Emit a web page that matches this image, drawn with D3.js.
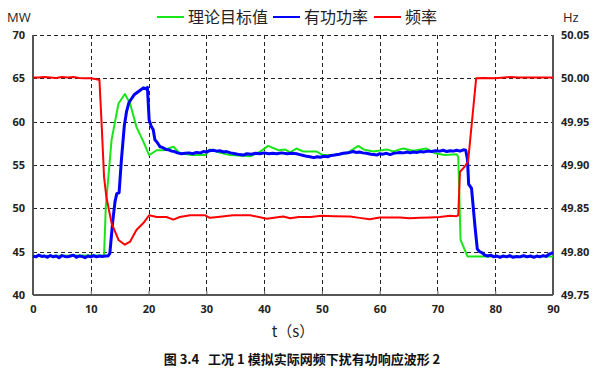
<!DOCTYPE html>
<html><head><meta charset="utf-8">
<script src="https://cdn.jsdelivr.net/npm/d3@7"></script>
<style>
html,body{margin:0;padding:0;background:#fff;}
svg{display:block;}
</style></head>
<body>
<svg id="c" width="595" height="370"></svg>
<script>
// ---- data ----
const xTicks = [0,10,20,30,40,50,60,70,80,90];
const yLeftTicks = [40,45,50,55,60,65,70];
const yRightTicks = ["49.75","49.80","49.85","49.90","49.95","50.00","50.05"];
const seriesNames = ["理论目标值","有功功率","频率"];
const seriesColors = ["#19e619","#0000ff","#ff0000"];

const greenT = [0,12.3,12.6,13.6,14.8,15.9,16.8,17.9,19.1,20.1,21.4,22.6,23.4,24.3,25.4,27.5,29.8,30.6,32.4,34.1,37.6,39.3,40.7,42.5,43.6,44.5,45.6,46.8,49.1,50.2,52.0,54.3,56.3,57.2,58.9,61.2,62.4,63.5,64.1,65.8,68.1,69.6,71.3,73.3,73.6,74.0,75.2,90];
const greenV = [44.5,44.6,50.2,57.9,62.1,63.2,62.1,59.4,57.7,56.15,56.7,56.7,56.9,57.1,56.35,56.15,56.15,56.8,56.4,56.15,56.0,56.55,57.2,56.7,56.8,56.45,56.9,56.55,56.55,56.15,56.15,56.35,57.2,56.8,56.55,56.8,56.55,56.8,56.9,56.65,56.9,56.35,56.15,56.25,55.95,46.35,44.45,44.45];

const blueT = [0,0.5,1,1.5,2,2.5,3,3.5,4,4.5,5,5.5,6,6.5,7,7.5,8,8.5,9,9.5,10,10.5,11,11.5,12,12.5,
13.0,13.3,13.8,14.2,14.5,14.9,15.3,15.8,16.2,16.6,17.1,17.5,17.9,18.5,19.1,19.5,19.8,20.0,20.1,20.5,20.8,21.1,21.5,22.0,22.5,23.0,23.5,24.0,24.5,25.0,25.7,26.3,27.0,27.6,28.3,29.0,29.5,30.0,30.6,31.2,31.8,32.3,33.0,33.5,34.2,35.0,35.7,36.4,37.0,37.8,38.5,39.3,40.0,40.8,41.5,42.2,43.0,44.0,44.8,45.6,46.2,46.8,47.4,47.9,48.6,49.2,49.7,50.4,51.0,51.6,52.2,53.0,53.7,54.5,55.4,56.0,56.5,57.1,57.7,58.5,59.0,59.5,60.0,60.6,61.2,61.8,62.4,63.0,63.5,64.1,64.8,65.3,65.8,66.5,67.0,67.6,68.3,69.0,69.7,70.4,71.0,71.6,72.2,72.8,73.3,73.9,74.5,74.9,75.2,75.4,75.9,76.5,76.9,77.3,77.7,78.2,78.7,79.2,79.8,80.3,80.8,81.4,82.0,82.5,83.1,83.7,84.3,84.9,85.5,86.1,86.7,87.2,87.7,88.3,88.8,89.3,89.7,90];
const blueV = [44.5,44.4,44.6,44.45,44.5,44.35,44.55,44.4,44.5,44.3,44.55,44.45,44.4,44.5,44.6,44.35,44.5,44.45,44.3,44.5,44.4,44.55,44.4,44.5,44.45,44.5,
44.5,44.8,48.5,50.8,51.7,51.8,55.6,59.5,61.2,62.2,62.7,63.1,63.3,63.6,63.9,63.8,63.95,61.5,60.2,59.4,59.1,57.9,57.6,57.1,57.0,56.8,56.75,56.6,56.55,56.4,56.3,56.35,56.4,56.3,56.45,56.4,56.55,56.5,56.65,56.7,56.6,56.65,56.5,56.55,56.4,56.3,56.2,56.15,56.3,56.25,56.35,56.3,56.4,56.3,56.35,56.3,56.4,56.3,56.35,56.3,56.2,56.1,56.0,55.95,55.85,55.95,55.9,56.0,55.95,56.1,56.15,56.25,56.35,56.4,56.55,56.45,56.5,56.4,56.35,56.25,56.2,56.15,56.3,56.25,56.35,56.2,56.35,56.4,56.45,56.4,56.5,56.4,56.5,56.45,56.55,56.5,56.6,56.55,56.65,56.6,56.7,56.55,56.65,56.6,56.7,56.6,56.75,56.7,55.6,52.8,52.3,47.9,45.3,45.0,44.9,44.6,44.5,44.6,44.4,44.5,44.35,44.5,44.4,44.55,44.35,44.45,44.4,44.55,44.4,44.5,44.35,44.5,44.4,44.55,44.45,44.7,44.8,44.9];

const freqT = [0,1,2,3,4,5,6,7,8,9,10,11,11.5,11.9,12.3,12.7,13.6,14.8,15.9,16.8,17.9,19.1,20.1,21.4,23.1,24.3,25.4,27.2,29.8,30.6,32,34.6,37.6,40.5,42,43.3,44.5,46,48,50,52,54.9,56.5,58.3,60,61.8,63.5,65.2,67,68.7,70.4,72.2,73.3,73.6,73.9,74.7,75.3,76.7,78,80,82.6,84,90];
const freqV = [50.001,50.001,50.0015,50.001,50.0005,50.0015,50.001,50.0015,50.0005,50.0,50.0,49.999,49.998,49.944,49.886,49.863,49.833,49.8135,49.808,49.8115,49.825,49.833,49.842,49.840,49.840,49.837,49.840,49.842,49.842,49.839,49.840,49.842,49.842,49.838,49.8395,49.8405,49.8385,49.840,49.840,49.8415,49.841,49.8405,49.839,49.8375,49.8395,49.8395,49.8395,49.8385,49.839,49.8395,49.840,49.8415,49.841,49.842,49.892,49.898,49.904,50.000,50.0005,50.0,50.0015,50.001,50.001];

// ---- drawing ----
const svg = d3.select("#c");
const L = 33, R = 553, T = 35, B = 295;
const x = d3.scaleLinear().domain([0,90]).range([L,R]);
const yL = d3.scaleLinear().domain([40,70]).range([B,T]);
const yR = d3.scaleLinear().domain([49.75,50.05]).range([B,T]);

const tickFont = "'Open Sans','Liberation Sans',sans-serif";
const cjk = "'Noto Sans CJK SC','Noto Sans',sans-serif";

// grid
const grid = svg.append("g");
xTicks.slice(1,-1).forEach(t=>{
  grid.append("line").attr("x1",Math.round(x(t))+0.5).attr("x2",Math.round(x(t))+0.5)
    .attr("y1",T).attr("y2",B).attr("stroke","#222").attr("stroke-width",1).attr("stroke-dasharray","4,3");
});
yLeftTicks.slice(1).forEach(v=>{
  grid.append("line").attr("x1",L).attr("x2",R).attr("y1",Math.round(yL(v))+0.5).attr("y2",Math.round(yL(v))+0.5)
    .attr("stroke","#222").attr("stroke-width",1).attr("stroke-dasharray","4,3");
});

// axes
const axB = d3.axisBottom(x).tickValues(xTicks).tickSize(-4).tickPadding(10).tickFormat(d3.format("d"));
const gB = svg.append("g").attr("transform",`translate(0,${B})`).call(axB);
const axLft = d3.axisLeft(yL).tickValues(yLeftTicks).tickSize(0).tickPadding(8).tickFormat(d3.format("d"));
const gL = svg.append("g").attr("transform",`translate(${L},0)`).call(axLft);
const axRgt = d3.axisRight(yR).tickValues(yRightTicks.map(Number)).tickSize(0).tickPadding(8).tickFormat(d3.format(".2f"));
const gR = svg.append("g").attr("transform",`translate(${R},0)`).call(axRgt);
[gB,gL,gR].forEach(g=>{
  g.select(".domain").attr("stroke","#555").attr("stroke-width",2);
  g.selectAll(".tick line").attr("stroke","#555").attr("stroke-width",1);
  g.selectAll("text").attr("font-family",tickFont).attr("font-weight","bold").attr("font-size",11).attr("fill","#222");
});
gR.select(".domain").attr("d",`M0,${T}V${B}`);
gL.select(".domain").attr("d",`M0,${T}V${B}`);
gB.select(".domain").attr("d",`M${L},0H${R}`);

// lines
const mk = (ts,vs,sc)=>d3.line().x((d,i)=>x(ts[i])).y((d,i)=>sc(vs[i]))(vs);
svg.append("path").attr("d",mk(greenT,greenV,yL)).attr("fill","none").attr("stroke",seriesColors[0]).attr("stroke-width",2).attr("stroke-linejoin","round");
svg.append("path").attr("d",mk(blueT,blueV,yL)).attr("fill","none").attr("stroke",seriesColors[1]).attr("stroke-width",3).attr("stroke-linejoin","round");
svg.append("path").attr("d",mk(freqT,freqV,yR)).attr("fill","none").attr("stroke",seriesColors[2]).attr("stroke-width",2).attr("stroke-linejoin","round");

// unit labels
svg.append("text").attr("x",7).attr("y",22).text("MW").attr("font-family",tickFont).attr("font-size",13).attr("fill","#222");
svg.append("text").attr("x",563).attr("y",22).text("Hz").attr("font-family",tickFont).attr("font-size",13).attr("fill","#222");

// legend
const legX = [157,273,374];
const lg = svg.append("g");
seriesNames.forEach((n,i)=>{
  lg.append("line").attr("x1",legX[i]).attr("x2",legX[i]+27).attr("y1",17).attr("y2",17).attr("stroke",seriesColors[i]).attr("stroke-width",2);
  lg.append("text").attr("x",legX[i]+31).attr("y",23).text(n).attr("font-family",cjk).attr("font-size",16).attr("fill","#222");
});

// x label
svg.append("text").attr("x",293).attr("y",337).attr("text-anchor","middle").text("t（s）").attr("font-family",cjk).attr("font-size",15).attr("fill","#222");
// caption
svg.append("text").attr("x",302).attr("y",364).attr("text-anchor","middle").attr("xml:space","preserve").text("图 3.4   工况 1 模拟实际网频下扰有功响应波形 2").attr("font-family",cjk).attr("font-weight","bold").attr("font-size",13).attr("fill","#111");
</script>
</body></html>
